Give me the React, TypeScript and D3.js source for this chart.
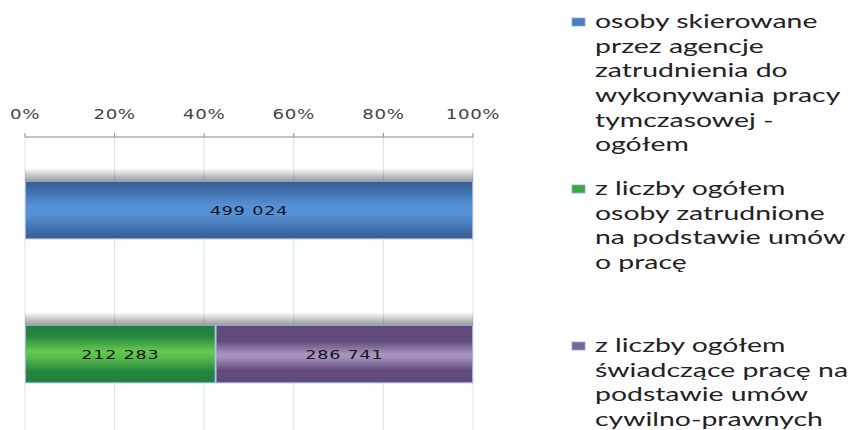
import React from "react";
import * as d3 from "d3";

const categories = ["ogółem", "z liczby ogółem"];
const seriesKeys = ["total", "umowy o pracę", "cywilno-prawne"];
const totalValues = [499024, 0];
const contractValues = [0, 212283];
const civilValues = [0, 286741];
const tickValues = [0, 0.2, 0.4, 0.6, 0.8, 1];
const legendLines = [
  ["osoby skierowane", "przez agencje", "zatrudnienia do", "wykonywania pracy", "tymczasowej -", "ogółem"],
  ["z liczby ogółem", "osoby zatrudnione", "na podstawie umów", "o pracę"],
  ["z liczby ogółem", "świadczące pracę na", "podstawie umów", "cywilno-prawnych"],
];

const W = 851;
const H = 430;

const gradients = [
  {
    id: "gBlue",
    legend: "#4a7ebb",
    stops: [
      [0, "#375d8f"],
      [0.12, "#3e6aa2"],
      [0.42, "#5690d6"],
      [0.58, "#5690d6"],
      [0.88, "#3e6aa2"],
      [1, "#375d8f"],
    ],
  },
  {
    id: "gGreen",
    legend: "#3da744",
    stops: [
      [0, "#21803e"],
      [0.2, "#26873f"],
      [0.45, "#66c94f"],
      [0.55, "#5bbd4b"],
      [0.8, "#26873f"],
      [1, "#21803e"],
    ],
  },
  {
    id: "gPurple",
    legend: "#7a64a0",
    stops: [
      [0, "#604a7b"],
      [0.28, "#624c7e"],
      [0.5, "#a695bd"],
      [0.56, "#a291ba"],
      [0.78, "#624c7e"],
      [1, "#604a7b"],
    ],
  },
];

export default function App() {
  const rows = categories.map((c, i) => ({
    cat: c,
    total: totalValues[i],
    "umowy o pracę": contractValues[i],
    "cywilno-prawne": civilValues[i],
  }));
  const stacked = d3.stack<any>().keys(seriesKeys).offset(d3.stackOffsetExpand)(rows);

  const x = d3.scaleLinear().domain([0, 1]).range([25, 473]);
  const y = d3.scaleBand<string>().domain(categories).range([138, 426]).paddingInner(0.6).paddingOuter(0.3);
  const bh = y.bandwidth();
  const fmt = (v: number) => d3.format(",")(v).replace(/,/g, " ");

  const legendStarts = [28, 195, 352];

  return (
    <svg width={W} height={H} style={{ position: "absolute", left: 0, top: 0, background: "#fff" }}>
      <defs>
        {gradients.map((g) => (
          <linearGradient key={g.id} id={g.id} x1="0" y1="0" x2="0" y2="1">
            {g.stops.map((s, k) => (
              <stop key={k} offset={s[0] as number} stopColor={s[1] as string} />
            ))}
          </linearGradient>
        ))}
        <linearGradient id="shadow" x1="0" y1="0" x2="0" y2="1">
          <stop offset="0" stopColor="#000" stopOpacity="0" />
          <stop offset="1" stopColor="#000" stopOpacity="0.4" />
        </linearGradient>
      </defs>

      {/* gridlines */}
      {tickValues.map((t) => (
        <line key={"g" + t} x1={x(t)} x2={x(t)} y1={137} y2={H} stroke="#dde6f2" strokeWidth={1.2} />
      ))}
      {/* axis */}
      <line x1={x(0)} x2={x(1)} y1={137} y2={137} stroke="#888" strokeWidth={1} />
      {tickValues.map((t) => (
        <g key={"t" + t}>
          <line x1={x(t)} x2={x(t)} y1={133} y2={137} stroke="#888" />
          <g transform={`translate(${x(t)},119) scale(1.3,1)`}>
            <text
              x={0}
              y={0}
              textAnchor="middle"
              fontFamily="DejaVu Sans"
              fontSize={14}
              letterSpacing={0.5}
              fill="#444"
            >
              {Math.round(t * 100) + "%"}
            </text>
          </g>
        </g>
      ))}

      {/* shadows */}
      {categories.map((c) => (
        <rect key={"s" + c} x={x(0)} y={(y(c) as number) - 13} width={x(1) - x(0)} height={13} fill="url(#shadow)" />
      ))}

      {/* bars */}
      {stacked.map((s, si) =>
        s.map((d, i) => {
          const v = (rows[i] as any)[seriesKeys[si]];
          if (!v) return null;
          const x0 = x(d[0]);
          const x1 = x(d[1]);
          const yy = y(categories[i]) as number;
          return (
            <g key={si + "-" + i}>
              <rect
                x={x0 + 0.5}
                y={yy}
                width={x1 - x0 - 1}
                height={bh}
                fill={`url(#${gradients[si].id})`}
                stroke="#9bb7dc"
                strokeWidth={1}
              />
              <g transform={`translate(${(x0 + x1) / 2},${yy + bh / 2 + 5}) scale(1.35,1)`}>
                <text x={0} y={0} textAnchor="middle" fontFamily="DejaVu Sans" fontSize={13} letterSpacing={0.6} fill="#151515">
                  {fmt(v)}
                </text>
              </g>
            </g>
          );
        })
      )}

      {/* legend */}
      {legendLines.map((lines, li) => (
        <g key={"l" + li}>
          <rect x={572} y={legendStarts[li] - 10} width={13} height={8} fill={gradients[li].legend} stroke="#8aaad6" strokeWidth={0.8} />
          <g transform={`translate(595,0) scale(1.42,1)`}>
            {lines.map((ln, k) => (
              <text key={k} x={0} y={legendStarts[li] + k * 24.7} fontFamily="Lato" fontSize={20} fill="#222">
                {ln}
              </text>
            ))}
          </g>
        </g>
      ))}
    </svg>
  );
}
